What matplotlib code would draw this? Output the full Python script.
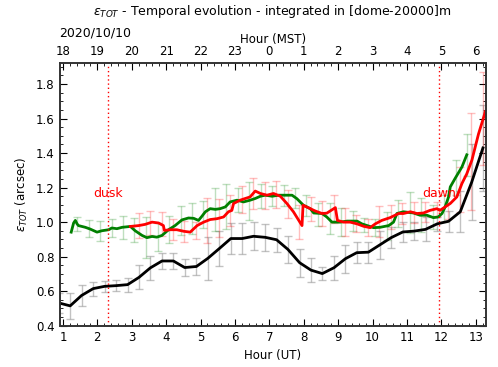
import numpy as np
import matplotlib
matplotlib.use('Agg')
import matplotlib.pyplot as plt
from matplotlib.ticker import AutoMinorLocator

# black series (20 min steps) with error bars
t_black = [0.88, 1.21, 1.54, 1.88, 2.21, 2.54, 2.88, 3.21, 3.54, 3.88, 4.21, 4.54, 4.88,
           5.21, 5.54, 5.88, 6.21, 6.54, 6.88, 7.21, 7.54, 7.88, 8.21, 8.54, 8.88, 9.21,
           9.54, 9.88, 10.21, 10.54, 10.88, 11.21, 11.54, 11.88, 12.21, 12.55, 12.88, 13.21]
v_black = [0.532, 0.515, 0.575, 0.615, 0.628, 0.632, 0.638, 0.68, 0.735, 0.775, 0.775, 0.737, 0.743,
           0.79, 0.846, 0.905, 0.905, 0.918, 0.912, 0.898, 0.842, 0.765, 0.722, 0.702, 0.736, 0.788,
           0.823, 0.826, 0.868, 0.91, 0.943, 0.948, 0.958, 0.99, 1.005, 1.06, 1.23, 1.43]
e_black = [0.06, 0.077, 0.06, 0.04, 0.03, 0.03, 0.04, 0.07, 0.068, 0.045, 0.045, 0.05, 0.05,
           0.125, 0.1, 0.09, 0.09, 0.08, 0.08, 0.07, 0.08, 0.08, 0.07, 0.04, 0.07, 0.08,
           0.06, 0.06, 0.08, 0.06, 0.06, 0.05, 0.07, 0.04, 0.06, 0.12, 0.22, 0.25]

# green series (fine resolution line)
t_green = [1.24, 1.31, 1.36, 1.41, 1.45, 1.65, 1.79, 1.99, 2.13, 2.33, 2.42, 2.57, 2.72, 2.96,
           3.10, 3.30, 3.44, 3.59, 3.73, 3.88, 4.07, 4.26, 4.46, 4.65, 4.80, 4.94, 5.04, 5.14,
           5.28, 5.43, 5.57, 5.72, 5.86, 6.06, 6.25, 6.44, 6.59, 6.74, 6.88, 7.08, 7.27, 7.66,
           7.80, 7.99, 8.19, 8.29, 8.53, 8.67, 8.82, 9.06, 9.26, 9.55, 9.69, 10.03, 10.22, 10.47,
           10.61, 10.71, 10.90, 11.19, 11.38, 11.58, 11.77, 11.91, 12.02, 12.11, 12.21, 12.26,
           12.40, 12.60, 12.74]
v_green = [0.942, 0.995, 1.01, 0.99, 0.98, 0.97, 0.96, 0.942, 0.95, 0.956, 0.966, 0.962, 0.97, 0.975,
           0.95, 0.923, 0.91, 0.917, 0.913, 0.923, 0.956, 0.98, 1.013, 1.024, 1.022, 1.01, 1.034, 1.06,
           1.078, 1.074, 1.078, 1.088, 1.117, 1.127, 1.117, 1.127, 1.137, 1.15, 1.156, 1.15, 1.156, 1.156,
           1.136, 1.098, 1.078, 1.053, 1.05, 1.03, 1.0, 1.0, 1.006, 1.006, 0.99, 0.968, 0.97, 0.98,
           1.0, 1.05, 1.06, 1.053, 1.04, 1.04, 1.026, 1.03, 1.05, 1.088, 1.146, 1.204,
           1.253, 1.32, 1.39]
tb_green = [1.41, 1.75, 2.08, 2.42, 2.75, 3.08, 3.42, 3.75, 4.08, 4.42, 4.75, 5.08, 5.42, 5.75,
            6.08, 6.42, 6.75, 7.08, 7.42, 7.75, 8.08, 8.42, 8.75, 9.08, 9.42, 9.75, 10.08, 10.42,
            10.75, 11.08, 11.42, 11.75, 12.08, 12.42, 12.75]
vb_green = [0.99, 0.962, 0.946, 0.966, 0.97, 0.955, 0.912, 0.915, 0.957, 1.01, 1.02, 1.045, 1.074, 1.09,
            1.127, 1.125, 1.15, 1.152, 1.156, 1.14, 1.095, 1.045, 1.02, 1.0, 1.006, 0.985, 0.968, 0.978,
            1.05, 1.056, 1.04, 1.028, 1.08, 1.26, 1.39]
eb_green = [0.04, 0.05, 0.058, 0.05, 0.065, 0.07, 0.12, 0.08, 0.08, 0.085, 0.09, 0.08, 0.126, 0.13,
            0.07, 0.11, 0.07, 0.06, 0.06, 0.06, 0.06, 0.065, 0.09, 0.08, 0.06, 0.04, 0.05, 0.08,
            0.08, 0.12, 0.1, 0.07, 0.08, 0.1, 0.12]

# red series
t_red = [2.96, 3.20, 3.39, 3.59, 3.78, 3.92, 3.95, 4.12, 4.31, 4.51, 4.70, 4.90, 5.09, 5.28,
         5.48, 5.67, 5.81, 5.91, 5.96, 6.15, 6.30, 6.44, 6.59, 6.74, 6.93, 7.12, 7.32, 7.51,
         7.70, 7.95, 7.98, 8.19, 8.33, 8.53, 8.67, 8.92, 8.98, 9.16, 9.35, 9.55, 9.74, 9.93,
         10.08, 10.27, 10.51, 10.76, 10.90, 11.10, 11.29, 11.48, 11.67, 11.87, 11.96, 12.11,
         12.26, 12.45, 12.60, 12.74, 12.89, 13.08, 13.28]
v_red = [0.975, 0.98, 0.987, 1.0, 0.995, 0.98, 0.952, 0.956, 0.956, 0.947, 0.942, 0.98, 1.0, 1.015,
         1.02, 1.03, 1.06, 1.068, 1.108, 1.127, 1.137, 1.146, 1.18, 1.166, 1.156, 1.166, 1.15, 1.108,
         1.06, 0.98, 1.098, 1.078, 1.065, 1.05, 1.052, 1.084, 1.01, 1.0, 1.0, 0.99, 0.976, 0.968,
         0.99, 1.01, 1.026, 1.05, 1.05, 1.06, 1.05, 1.053, 1.068, 1.078, 1.068, 1.088,
         1.108, 1.146, 1.224, 1.28, 1.36, 1.51, 1.64]
tb_red = [3.20, 3.53, 3.87, 4.20, 4.53, 4.87, 5.20, 5.53, 5.87, 6.20, 6.53, 6.87, 7.20, 7.53,
          7.87, 8.20, 8.53, 8.87, 9.20, 9.53, 9.87, 10.20, 10.53, 10.87, 11.20, 11.53, 11.87,
          12.20, 12.53, 12.87, 13.20]
vb_red = [0.98, 0.997, 0.99, 0.956, 0.947, 0.95, 1.01, 1.022, 1.065, 1.13, 1.165, 1.155, 1.16, 1.105,
          1.0, 1.078, 1.05, 1.075, 1.0, 0.99, 0.97, 1.005, 1.028, 1.05, 1.055, 1.058, 1.075,
          1.1, 1.19, 1.35, 1.6]
eb_red = [0.07, 0.07, 0.07, 0.06, 0.06, 0.05, 0.13, 0.11, 0.09, 0.08, 0.09, 0.08, 0.08, 0.08,
          0.1, 0.07, 0.07, 0.08, 0.08, 0.05, 0.05, 0.09, 0.07, 0.06, 0.06, 0.06, 0.04,
          0.08, 0.13, 0.28, 0.27]

dusk = 2.31
dawn = 11.94
ut_ticks = list(range(1, 14))
mst_labels = ['18', '19', '20', '21', '22', '23', '0', '1', '2', '3', '4', '5', '6']

fig = plt.figure(figsize=(4.98, 3.67), dpi=100)
ax = fig.add_axes([0.1195, 0.1125, 0.8565, 0.715])

ax.errorbar(t_black, v_black, yerr=e_black, fmt='none', ecolor='#9a9a9a', alpha=0.6,
            elinewidth=1, capsize=3, capthick=1)
ax.errorbar(tb_green, vb_green, yerr=eb_green, fmt='none', ecolor='green', alpha=0.25,
            elinewidth=1, capsize=3, capthick=1)
ax.errorbar(tb_red, vb_red, yerr=eb_red, fmt='none', ecolor='red', alpha=0.25,
            elinewidth=1, capsize=3, capthick=1)

ax.plot(t_black, v_black, color='black', lw=2)
ax.plot(t_green, v_green, color='green', lw=2)
ax.plot(t_red, v_red, color='red', lw=2)

ax.axvline(dusk, color='red', ls=(0, (1, 2)), lw=1)
ax.axvline(dawn, color='red', ls=(0, (1, 2)), lw=1)
ax.text(dusk, 1.166, 'dusk', color='red', fontsize=9, ha='center', va='center')
ax.text(dawn, 1.166, 'dawn', color='red', fontsize=9, ha='center', va='center')

ax.set_xlim(0.9, 13.3)
ax.set_ylim(0.4, 1.92)
ax.set_xticks(ut_ticks)
ax.set_yticks(np.arange(0.4, 1.81, 0.2))
ax.xaxis.set_minor_locator(AutoMinorLocator(5))
ax.yaxis.set_minor_locator(AutoMinorLocator(4))
ax.tick_params(which='both', direction='in', right=True, labelsize=8.5)
ax.tick_params(which='major', length=5)
ax.tick_params(which='minor', length=2.5)
ax.set_xlabel('Hour (UT)', fontsize=8.5)
ax.set_ylabel(r'$\varepsilon_{TOT}$ (arcsec)', fontsize=8.5)

ax2 = ax.twiny()
ax2.set_xlim(ax.get_xlim())
ax2.set_xticks(ut_ticks)
ax2.set_xticklabels(mst_labels)
ax2.xaxis.set_minor_locator(AutoMinorLocator(5))
ax2.tick_params(which='both', direction='in', labelsize=8.5)
ax2.tick_params(which='major', length=5)
ax2.tick_params(which='minor', length=2.5)
ax2.set_xlabel('Hour (MST)', fontsize=8.5, labelpad=2)

for a in (ax, ax2):
    for s in a.spines.values():
        s.set_linewidth(1.2)
        s.set_color('#333333')

fig.text(0.1195, 0.91, '2020/10/10', fontsize=9, ha='left', va='center')
fig.text(0.546, 0.968, r'$\varepsilon_{TOT}$ - Temporal evolution - integrated in [dome-20000]m',
         fontsize=9, ha='center', va='center')

fig.savefig('out.png', dpi=100)
